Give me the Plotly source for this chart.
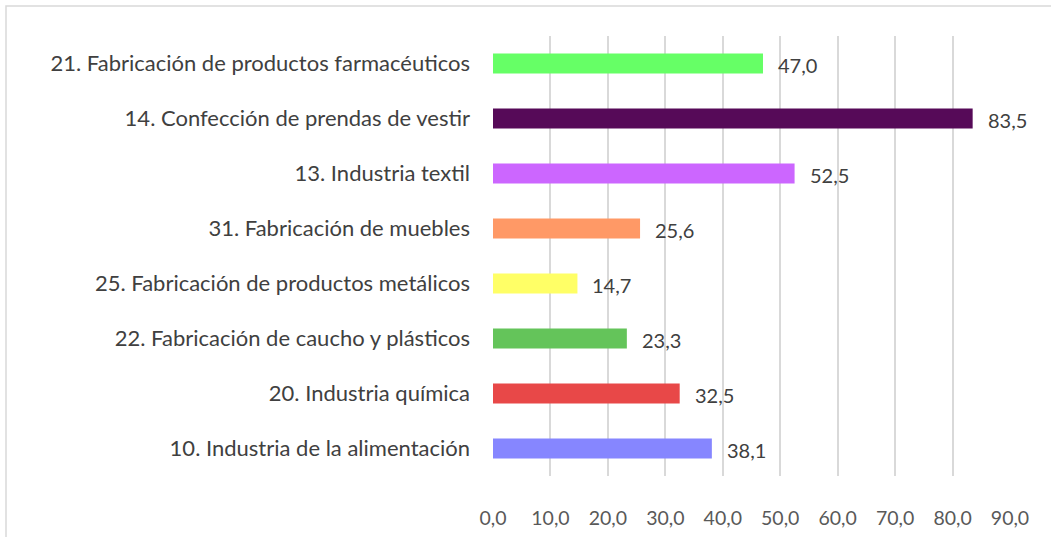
import plotly.graph_objects as go

categories = [
    "10. Industria de la alimentación",
    "20. Industria química",
    "22. Fabricación de caucho y plásticos",
    "25. Fabricación de productos metálicos",
    "31. Fabricación de muebles",
    "13. Industria textil",
    "14. Confección de prendas de vestir",
    "21. Fabricación de productos farmacéuticos",
]
values = [38.1, 32.5, 23.3, 14.7, 25.6, 52.5, 83.5, 47.0]
colors = ["#8686FF", "#E84848", "#64C45A", "#FFFF66", "#FF9966", "#CC66FF", "#560A58", "#66FF66"]
x_ticks = [0, 10, 20, 30, 40, 50, 60, 70, 80, 90]

W, H = 1051, 537
L, R, T, B = 493, 41, 36, 61
FONT = "Lato, Carlito, sans-serif"

fig = go.Figure()
fig.add_trace(go.Bar(
    y=categories, x=values, orientation="h",
    marker=dict(color=colors, line=dict(width=0)),
    width=0.36, showlegend=False, hoverinfo="x+y",
))

for c, v in zip(categories, values):
    fig.add_annotation(
        x=v, y=c, xref="x", yref="y",
        text=f"{v:.1f}".replace(".", ","),
        showarrow=False, xanchor="left", yanchor="middle",
        xshift=13, yshift=-1,
        font=dict(family=FONT, size=20, color="#404040"),
    )

pw = W - L - R
ph = H - T - B
x0 = (6 - L) / pw
x1 = (1060 - L) / pw
y1 = (H - B - 6) / ph
y0 = (H - B - 545) / ph
fig.add_shape(type="rect", xref="paper", yref="paper", x0=x0, x1=x1, y0=y0, y1=y1,
              line=dict(color="#D9D9D9", width=1.5), fillcolor="rgba(0,0,0,0)", layer="below")

fig.update_layout(
    width=W, height=H,
    margin=dict(l=L, r=R, t=T, b=B, autoexpand=False),
    paper_bgcolor="white", plot_bgcolor="white",
    separators=",.",
    xaxis=dict(
        range=[0, 90], tickvals=x_ticks, tickformat=".1f",
        showgrid=True, gridcolor="#D9D9D9", gridwidth=1.5,
        zeroline=False, showline=False, ticks="",
        tickfont=dict(family=FONT, size=19.5, color="#595959"),
        ticklabelstandoff=28,
    ),
    yaxis=dict(
        categoryorder="array", categoryarray=categories,
        showgrid=False, zeroline=False, showline=False, ticks="",
        tickfont=dict(family=FONT, size=22, color="#404040"),
        ticklabelstandoff=22,
    ),
)

fig.write_html(
    "out.html",
    config={"displayModeBar": False},
    post_script="document.body.style.margin='0';document.body.style.overflow='hidden';",
)
